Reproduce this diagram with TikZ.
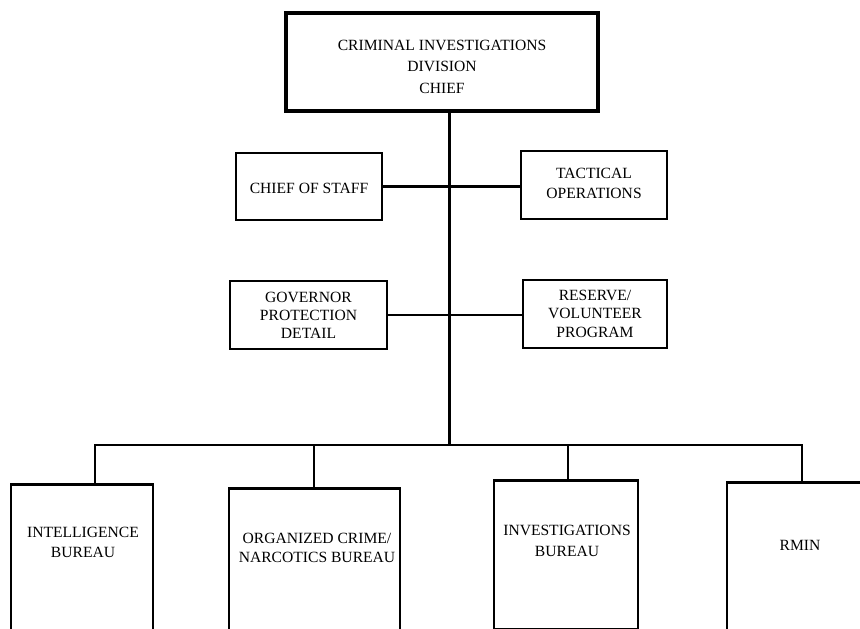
\documentclass[tikz,border=0pt]{standalone}
\usepackage{fontspec}
\setmainfont{Liberation Serif}
\begin{document}
\begin{tikzpicture}[x=1pt,y=-1pt,
  box/.style={draw=black,line width=2.8pt,rectangle,inner sep=0pt,fill=white},
  topbox/.style={box,line width=4pt},
  lbl/.style={align=center,inner sep=0pt,font=\fontsize{15.6}{19.5}\selectfont},
  wire/.style={line width=2.8pt,line cap=rect}]
\useasboundingbox (0,0) rectangle (860,629);
\begin{scope}
\clip (0,0) rectangle (860,629);
% top
\node[topbox,minimum width=312pt,minimum height=98pt] (chief) at (442,62) {};
\node[lbl,font=\fontsize{15.6}{21.5}\selectfont] (chiefT) at (442,66.5) {CRIMINAL INVESTIGATIONS\\DIVISION\\CHIEF};
% middle
\node[box,minimum width=146pt,minimum height=67pt] (cos) at (309,186.5) {};
\node[lbl] (cosT) at (309,188) {CHIEF OF STAFF};
\node[box,minimum width=146pt,minimum height=68pt] (tac) at (594,185) {};
\node[lbl,font=\fontsize{15.6}{20}\selectfont] (tacT) at (594,183) {TACTICAL\\OPERATIONS};
\node[box,minimum width=157pt,minimum height=68pt] (gov) at (308.5,315) {};
\node[lbl,font=\fontsize{15.6}{18}\selectfont] (govT) at (308.5,315) {GOVERNOR\\PROTECTION\\DETAIL};
\node[box,minimum width=144pt,minimum height=68pt] (res) at (595,314) {};
\node[lbl,font=\fontsize{15.6}{18.5}\selectfont] (resT) at (595,313.5) {RESERVE/\\VOLUNTEER\\PROGRAM};
% bottom
\node[box,minimum width=142pt,minimum height=180pt,anchor=north] (intel) at (82,483) {};
\node[lbl] (intelT) at (83,542.5) {INTELLIGENCE\\BUREAU};
\node[box,minimum width=171pt,minimum height=180pt,anchor=north] (org) at (314.5,487) {};
\node[lbl] (orgT) at (317,548) {ORGANIZED CRIME/\\NARCOTICS BUREAU};
\node[box,minimum width=144pt,minimum height=148.5pt,anchor=north] (inv) at (566,479) {};
\node[lbl,font=\fontsize{15.6}{21}\selectfont] (invT) at (567,540.5) {INVESTIGATIONS\\BUREAU};
\node[box,minimum width=153pt,minimum height=150pt,anchor=north] (rmin) at (803.5,481) {};
\node[lbl] (rminT) at (800,545) {RMIN};
% connectors
\coordinate (busL) at (95,445);
\coordinate (busM) at (449.5,445);
\coordinate (busR) at (802,445);
\coordinate (busO) at (314,445);
\coordinate (busI) at (568,445);
\draw[wire] (busM |- chief.south) -- (busM);
\draw[wire] (busL) -- (busR);
\draw[wire] (busL) -- (busL |- intel.north);
\draw[wire] (busO) -- (busO |- org.north);
\draw[wire] (busI) -- (busI |- inv.north);
\draw[wire] (busR) -- (busR |- rmin.north);
\draw[wire] (cos.east) -- (busM |- cos.east);
\draw[wire] (busM |- cos.east) -- (tac.west |- cos.east);
\draw[wire] (gov.east) -- (busM |- gov.east);
\draw[wire] (busM |- gov.east) -- (res.west |- gov.east);
\end{scope}
\end{tikzpicture}
\end{document}
